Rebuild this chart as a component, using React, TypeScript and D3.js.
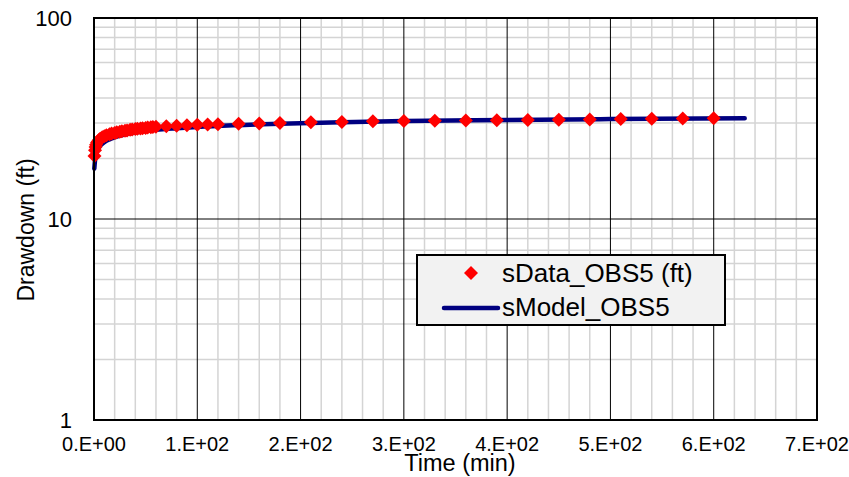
import React, { useRef, useEffect } from 'react';
import * as d3 from 'd3';

// observed drawdown (time in min, drawdown in ft)
const dataTime = [0.5, 1, 1.5, 2, 3, 4, 5, 6, 8, 10, 12, 15, 17, 20, 22, 25, 27, 30, 32, 35, 37, 40, 42, 45, 47, 50, 52, 55, 57, 60,
  70, 80, 90, 100, 110, 120, 140, 160, 180, 210, 240, 270, 300, 330, 360, 390, 420, 450, 480, 510, 540, 570, 600];
const dataDrawdown = [20.6, 22.0, 22.8, 23.4, 24.0, 24.4, 24.8, 25.1, 25.5, 25.8, 26.1, 26.4, 26.6, 26.8, 27.0, 27.2, 27.3, 27.5, 27.6, 27.8, 27.9, 28.0, 28.1, 28.2, 28.3, 28.4, 28.5, 28.6, 28.7, 28.8,
  28.9, 29.1, 29.3, 29.4, 29.5, 29.6, 29.8, 29.9, 30.0, 30.3, 30.4, 30.6, 30.7, 30.8, 30.9, 31.0, 31.1, 31.2, 31.3, 31.4, 31.5, 31.6, 31.7];

// model curve
const modelTime = [0.3, 1, 2, 4, 7, 10, 15, 20, 30, 40, 60, 80, 100, 140, 180, 240, 300, 400, 500, 630];
const modelDrawdown = [17.8, 19.6, 21.0, 22.4, 23.4, 24.1, 24.9, 25.5, 26.3, 26.9, 27.8, 28.3, 28.7, 29.3, 29.8, 30.3, 30.7, 31.1, 31.4, 31.7];

const xTicks = [0, 100, 200, 300, 400, 500, 600, 700];
const yTicks = [1, 10, 100];
const legendLabels = ['sData_OBS5 (ft)', 'sModel_OBS5'];

export default function App() {
  const svgRef = useRef<SVGSVGElement>(null);
  const width = 849;
  const height = 477;
  const margin = { top: 18, right: 32, bottom: 57, left: 94 };

  useEffect(() => {
    document.body.style.margin = '0';
    const svg = d3.select(svgRef.current);
    svg.selectAll('*').remove();

    const x = d3.scaleLinear().domain([0, 700]).range([margin.left, width - margin.right]);
    const y = d3.scaleLog().domain([1, 100]).range([height - margin.bottom, margin.top]);
    const font = 'Liberation Sans, Arial, sans-serif';

    svg.append('rect').attr('width', width).attr('height', height).attr('fill', 'white');

    // minor grid
    const xMinor = d3.range(0, 701, 20).filter(d => d % 100 !== 0);
    const yMinor: number[] = [];
    [1, 10].forEach(dec => d3.range(2, 10).forEach(k => yMinor.push(dec * k)));

    const grid = svg.append('g');
    grid.selectAll('line.xm').data(xMinor).join('line')
      .attr('x1', d => x(d)).attr('x2', d => x(d))
      .attr('y1', margin.top).attr('y2', height - margin.bottom)
      .attr('stroke', '#d4d4d4').attr('stroke-width', 1.5);
    grid.selectAll('line.ym').data(yMinor).join('line')
      .attr('x1', margin.left).attr('x2', width - margin.right)
      .attr('y1', d => y(d)).attr('y2', d => y(d))
      .attr('stroke', '#d4d4d4').attr('stroke-width', 1.5);

    // major grid
    grid.selectAll('line.xM').data(xTicks.slice(1, -1)).join('line')
      .attr('x1', d => x(d)).attr('x2', d => x(d))
      .attr('y1', margin.top).attr('y2', height - margin.bottom)
      .attr('stroke', '#000').attr('stroke-width', 1);
    grid.selectAll('line.yM').data([10]).join('line')
      .attr('x1', margin.left).attr('x2', width - margin.right)
      .attr('y1', d => y(d)).attr('y2', d => y(d))
      .attr('stroke', '#000').attr('stroke-width', 1);

    // model line
    const line = d3.line<number>()
      .x((_, i) => x(modelTime[i]))
      .y(d => y(d))
      .curve(d3.curveMonotoneX);
    svg.append('path')
      .datum(modelDrawdown)
      .attr('fill', 'none')
      .attr('stroke', '#000080')
      .attr('stroke-width', 4.5)
      .attr('stroke-linecap', 'round')
      .attr('d', line);

    // data points
    const diamond = d3.symbol().type(d3.symbolDiamond2).size(125);
    svg.append('g').selectAll('path').data(dataDrawdown).join('path')
      .attr('d', diamond)
      .attr('transform', (d, i) => `translate(${x(dataTime[i])},${y(d)})`)
      .attr('fill', '#ff0000');

    // plot border
    svg.append('rect')
      .attr('x', margin.left).attr('y', margin.top)
      .attr('width', width - margin.left - margin.right)
      .attr('height', height - margin.top - margin.bottom)
      .attr('fill', 'none').attr('stroke', '#000').attr('stroke-width', 2);

    // tick labels
    svg.append('g').selectAll('text').data(yTicks).join('text')
      .attr('x', margin.left - 22).attr('y', d => y(d)).attr('dy', '0.35em')
      .attr('text-anchor', 'end').attr('font-family', font).attr('font-size', 22)
      .text(d => String(d));
    svg.append('g').selectAll('text').data(xTicks).join('text')
      .attr('x', d => x(d)).attr('y', height - margin.bottom + 31)
      .attr('text-anchor', 'middle').attr('font-family', font).attr('font-size', 20)
      .text(d => d === 0 ? '0.E+00' : `${d / 100}.E+02`);

    // axis titles
    svg.append('text')
      .attr('x', 460).attr('y', 471)
      .attr('text-anchor', 'middle').attr('font-family', font).attr('font-size', 23.5)
      .text('Time (min)');
    svg.append('text')
      .attr('transform', 'translate(34,230) rotate(-90)')
      .attr('text-anchor', 'middle').attr('font-family', font).attr('font-size', 23)
      .text('Drawdown (ft)');

    // legend
    const lg = svg.append('g').attr('transform', 'translate(417,255)');
    lg.append('rect').attr('width', 308).attr('height', 70)
      .attr('fill', '#f2f2f2').attr('stroke', '#000').attr('stroke-width', 2);
    lg.append('path').attr('d', diamond).attr('transform', 'translate(54,18)').attr('fill', '#ff0000');
    lg.append('line').attr('x1', 27).attr('x2', 81).attr('y1', 53).attr('y2', 53)
      .attr('stroke', '#000080').attr('stroke-width', 4.5).attr('stroke-linecap', 'round');
    lg.selectAll('text').data(legendLabels).join('text')
      .attr('x', 85).attr('y', (_, i) => 27 + i * 34)
      .attr('font-family', font).attr('font-size', 26)
      .text(d => d);
  }, []);

  return <svg ref={svgRef} width={width} height={height} style={{ display: 'block' }} />;
}
